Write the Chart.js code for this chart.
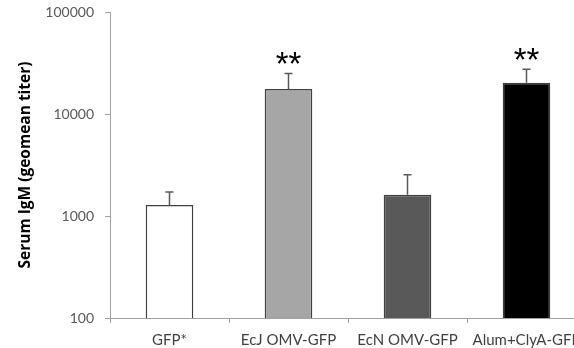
<!DOCTYPE html>
<html>
<head>
<meta charset="utf-8">
<script src="https://cdn.jsdelivr.net/npm/chart.js@4/dist/chart.umd.min.js"></script>
<style>
  html, body { margin: 0; padding: 0; background: #fff; overflow: hidden; width: 574px; height: 348px; }
  #wrap { position: relative; width: 592px; height: 348px; }
</style>
</head>
<body>
<div id="wrap"><canvas id="c"></canvas></div>
<script>
const categories = ['GFP*', 'EcJ OMV-GFP', 'EcN OMV-GFP', 'Alum+ClyA-GFP'];
const geomeanTiter = [1280, 17600, 1620, 20300];
const errorUpper = [1720, 25000, 2540, 27400];
const significance = ['', '**', '', '**'];
const yTicks = [100, 1000, 10000, 100000];
const barColors = ['#ffffff', '#a6a6a6', '#595959', '#000000'];

const errorAndStars = {
  id: 'errorAndStars',
  afterDatasetsDraw(chart) {
    const ctx = chart.ctx;
    const x = chart.scales.x, y = chart.scales.y;
    ctx.save();
    ctx.strokeStyle = '#595959';
    ctx.lineWidth = 1.5;
    for (let i = 0; i < categories.length; i++) {
      const cx = x.getPixelForValue(i);
      const y0 = y.getPixelForValue(geomeanTiter[i]);
      const y1 = y.getPixelForValue(errorUpper[i]);
      ctx.beginPath();
      ctx.moveTo(cx, y0);
      ctx.lineTo(cx, y1);
      ctx.moveTo(cx - 4, y1);
      ctx.lineTo(cx + 4, y1);
      ctx.stroke();
      if (significance[i]) {
        ctx.fillStyle = '#000';
        ctx.font = '33px "Liberation Sans"';
        ctx.textAlign = 'center';
        ctx.textBaseline = 'alphabetic';
        const m = ctx.measureText(significance[i]);
        const target = y1 - 15;
        const by = target + (m.actualBoundingBoxAscent - m.actualBoundingBoxDescent) / 2;
        ctx.fillText(significance[i], cx, by);
      }
    }
    ctx.restore();
  }
};

new Chart(document.getElementById('c'), {
  type: 'bar',
  data: {
    labels: categories,
    datasets: [{
      data: geomeanTiter,
      backgroundColor: barColors,
      borderColor: '#404040',
      borderWidth: 1.5,
      barPercentage: 0.4,
      categoryPercentage: 1.0
    }]
  },
  options: {
    responsive: true,
    maintainAspectRatio: false,
    animation: false,
    layout: { padding: { left: 0, right: 6, top: 12, bottom: 0 } },
    plugins: { legend: { display: false }, tooltip: { enabled: false } },
    scales: {
      x: {
        grid: { display: true, drawOnChartArea: false, drawTicks: true, tickLength: 5, color: '#a0a0a0', offset: true },
        border: { color: '#a0a0a0', width: 1 },
        ticks: { color: '#404040', font: { family: 'Lato', size: 15 }, padding: 8, maxRotation: 0, autoSkip: false },
        afterFit(s) { s.height = 30; s.paddingLeft = 0; s.paddingRight = 0; }
      },
      y: {
        type: 'logarithmic',
        min: 100,
        max: 100000,
        grid: { display: true, drawOnChartArea: false, drawTicks: true, tickLength: 5, color: '#a0a0a0' },
        border: { color: '#a0a0a0', width: 1 },
        afterBuildTicks(s) { s.ticks = yTicks.map(v => ({ value: v })); },
        ticks: {
          color: '#595959',
          font: { family: 'Lato', size: 14 },
          padding: 11,
          callback: v => String(v)
        },
        title: {
          display: true,
          text: 'Serum IgM (geomean titer)',
          color: '#000',
          font: { family: 'Open Sans', size: 15.5, weight: 'bold' },
          padding: { top: 16, bottom: 0 }
        },
        afterFit(s) { s.width = 110; s.paddingTop = 0; s.paddingBottom = 0; }
      }
    }
  },
  plugins: [errorAndStars]
});
</script>
</body>
</html>
